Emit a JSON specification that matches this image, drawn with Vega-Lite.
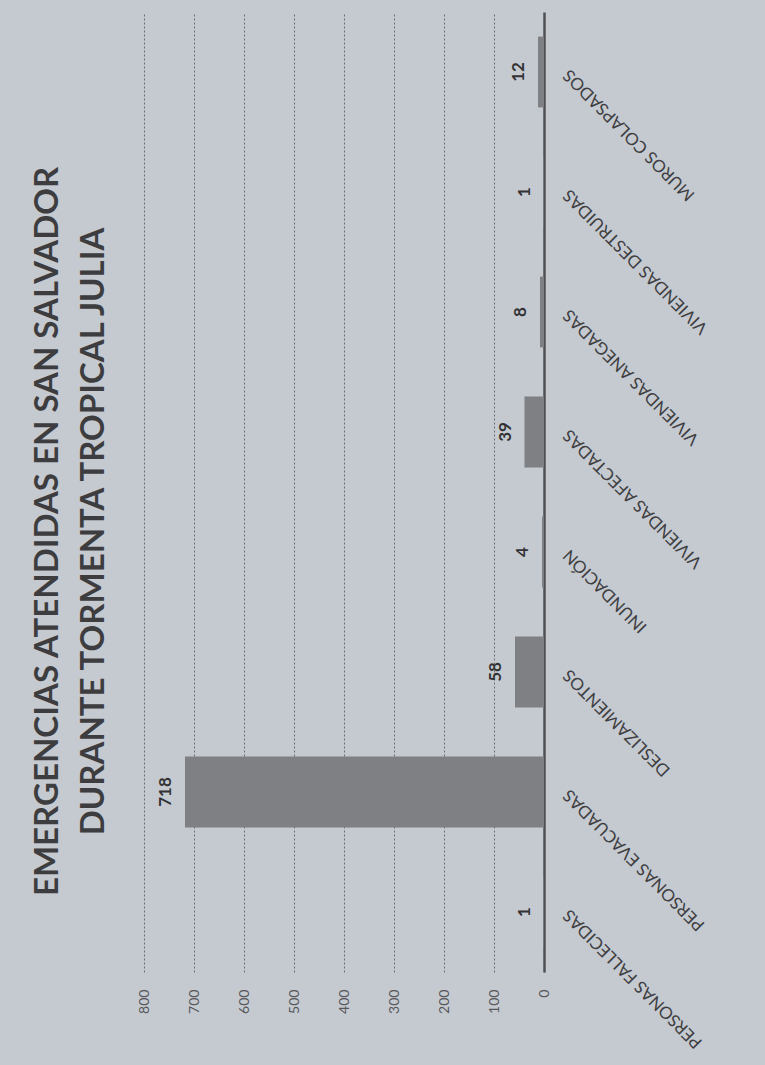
{
  "$schema": "https://vega.github.io/schema/vega-lite/v6.json",
  "autosize": {"type": "none"},
  "padding": {"left": 144, "top": 12, "right": 221, "bottom": 93},
  "width": 400,
  "height": 960,
  "background": "#c5cad1",
  "title": {
    "text": ["EMERGENCIAS ATENDIDAS EN SAN SALVADOR", "DURANTE TORMENTA TROPICAL JULIA"],
    "orient": "left",
    "anchor": "middle",
    "frame": "bounds",
    "font": "Lato",
    "fontSize": 33,
    "fontWeight": "bold",
    "color": "#3d3d3f",
    "lineHeight": 46,
    "offset": 26
  },
  "data": {
    "values": [
      {"categoria": "PERSONAS FALLECIDAS", "valor": 1},
      {"categoria": "PERSONAS EVACUADAS", "valor": 718},
      {"categoria": "DESLIZAMIENTOS", "valor": 58},
      {"categoria": "INUNDACIÓN", "valor": 4},
      {"categoria": "VIVIENDAS AFECTADAS", "valor": 39},
      {"categoria": "VIVIENDAS ANEGADAS", "valor": 8},
      {"categoria": "VIVIENDAS DESTRUIDAS", "valor": 1},
      {"categoria": "MUROS COLAPSADOS", "valor": 12}
    ]
  },
  "encoding": {
    "y": {
      "field": "categoria",
      "type": "nominal",
      "sort": ["MUROS COLAPSADOS", "VIVIENDAS DESTRUIDAS", "VIVIENDAS ANEGADAS", "VIVIENDAS AFECTADAS", "INUNDACIÓN", "DESLIZAMIENTOS", "PERSONAS EVACUADAS", "PERSONAS FALLECIDAS"],
      "scale": {"paddingInner": 0.41, "paddingOuter": 0.205},
      "axis": {
        "orient": "right",
        "title": null,
        "ticks": false,
        "tickSize": 0,
        "labelPadding": 22,
        "labelAngle": 225,
        "labelAlign": "right",
        "labelBaseline": "middle",
        "labelFont": "Lato",
        "labelFontSize": 17,
        "labelColor": "#3f3f42",
        "labelLimit": 400,
        "domainColor": "#505052",
        "domainWidth": 2.5,
        "grid": false
      }
    },
    "x": {
      "field": "valor",
      "type": "quantitative",
      "scale": {"domain": [0, 800], "reverse": true, "nice": false},
      "axis": {
        "orient": "bottom",
        "title": null,
        "values": [0, 100, 200, 300, 400, 500, 600, 700, 800],
        "domain": false,
        "ticks": false,
        "tickSize": 0,
        "labelPadding": 17,
        "labelAngle": 270,
        "labelAlign": "right",
        "labelBaseline": "middle",
        "labelFont": "Lato",
        "labelFontSize": 14,
        "labelColor": "#58585b",
        "grid": true,
        "gridColor": "#6e6e72",
        "gridDash": [2, 2],
        "gridWidth": 1
      }
    }
  },
  "layer": [
    {"mark": {"type": "bar", "color": "#7f8084"}},
    {
      "mark": {"type": "text", "angle": 270, "align": "center", "baseline": "alphabetic", "dy": -14, "font": "Lato", "fontSize": 17, "fontWeight": "bold", "color": "#333335"},
      "encoding": {"text": {"field": "valor", "type": "quantitative"}}
    }
  ],
  "config": {"view": {"stroke": null}}
}
